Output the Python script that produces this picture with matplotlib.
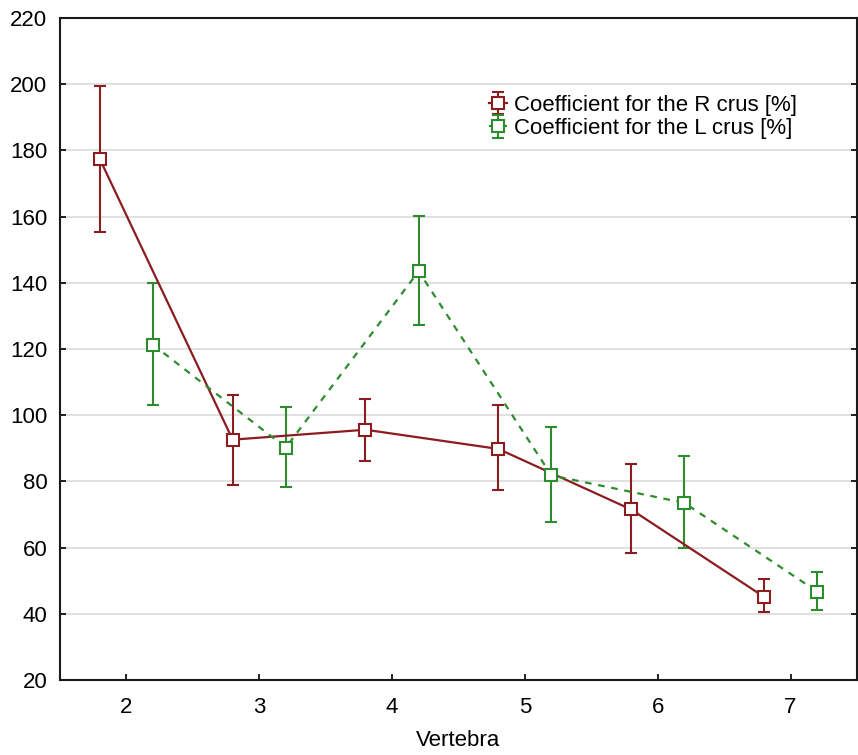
import matplotlib.pyplot as plt
import numpy as np

# vertebra levels and measured coefficients (mean, upper, lower)
vertebra = [2, 3, 4, 5, 6, 7]

r_mean = [177.4, 92.6, 95.6, 89.8, 71.5, 45.1]
r_upper = [199.5, 106.2, 104.9, 103.0, 85.2, 50.5]
r_lower = [155.3, 78.9, 86.3, 77.3, 58.4, 40.5]

l_mean = [121.3, 90.2, 143.5, 81.8, 73.5, 46.7]
l_upper = [140.0, 102.5, 160.2, 96.5, 87.8, 52.6]
l_lower = [103.0, 78.4, 127.4, 67.7, 59.8, 41.2]

red = "#8b1c1f"
green = "#2e8b2e"

plt.rcParams["font.family"] = ["Liberation Sans", "DejaVu Sans"]

fig = plt.figure(figsize=(8.58, 7.55), dpi=100)
ax = fig.add_axes([0.0699, 0.0995, 0.9289, 0.8765])

x = np.array(vertebra, dtype=float)
r_mean = np.array(r_mean)
l_mean = np.array(l_mean)
r_err = [r_mean - np.array(r_lower), np.array(r_upper) - r_mean]
l_err = [l_mean - np.array(l_lower), np.array(l_upper) - l_mean]

ax.errorbar(x - 0.2, r_mean, yerr=r_err, color=red, ecolor=red, lw=1.6,
            elinewidth=1.5, capsize=4.5, capthick=1.5, marker="s", ms=9,
            mfc="white", mec=red, mew=1.5, label="Coefficient for the R crus [%]", zorder=3)
ax.errorbar(x + 0.2, l_mean, yerr=l_err, color=green, ecolor=green, lw=1.6,
            ls=(0, (3, 3)), elinewidth=1.5, capsize=4.5, capthick=1.5, marker="s", ms=9,
            mfc="white", mec=green, mew=1.5, label="Coefficient for the L crus [%]", zorder=3)

ax.set_xlim(1.5, 7.5)
ax.set_ylim(20, 220)
ax.set_xticks(vertebra)
ax.set_yticks(np.arange(20, 221, 20))
ax.grid(axis="y", color="#dcdcdc", lw=1.2)
ax.set_axisbelow(True)
ax.tick_params(direction="in", length=4, width=1.2, labelsize=16, right=True)
ax.tick_params(axis="x", pad=12)
ax.tick_params(axis="y", pad=9)
for s in ax.spines.values():
    s.set_linewidth(1.5)
    s.set_color("#1a1a1a")

ax.set_xlabel("Vertebra", fontsize=16, labelpad=9)

ax.legend(loc="upper left", bbox_to_anchor=(0.513, 0.914), frameon=False,
          handlelength=0.8, handletextpad=0.35, labelspacing=0.1,
          prop={"size": 16})

fig.savefig("out.png", dpi=100)
